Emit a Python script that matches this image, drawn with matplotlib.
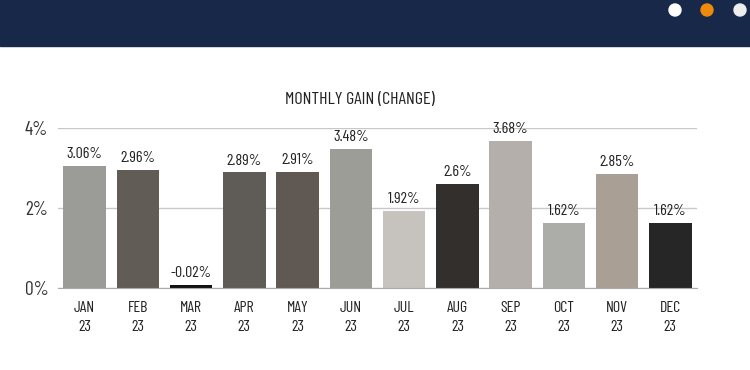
import numpy as np
import matplotlib.pyplot as plt
from matplotlib.patches import Rectangle, Ellipse

months = ["JAN", "FEB", "MAR", "APR", "MAY", "JUN",
          "JUL", "AUG", "SEP", "OCT", "NOV", "DEC"]
year = "23"
gains = [3.06, 2.96, -0.02, 2.89, 2.91, 3.48,
         1.92, 2.6, 3.68, 1.62, 2.85, 1.62]
bar_colors = ["#9b9b97", "#625c56", "#111111", "#5f5b56", "#605853",
              "#9d9d98", "#c6c3bf", "#332f2c", "#b5afab", "#acaca9",
              "#aa9f95", "#262626"]
y_ticks = [0, 2, 4]

plt.rcParams['font.family'] = ['Barlow Condensed', 'DejaVu Sans']

fig = plt.figure(figsize=(7.5, 3.7), dpi=100)
fig.patch.set_facecolor("white")

# banner oben
fig.add_artist(Rectangle((0, 1 - 46 / 370), 1, 46 / 370,
                         transform=fig.transFigure, color="#172849",
                         zorder=0))
for cx, col in zip([675, 707, 740], ["#ffffff", "#f08a0b", "#eeeeee"]):
    fig.add_artist(Ellipse((cx / 750, 1 - 10 / 370), 12 / 750, 12 / 370,
                           transform=fig.transFigure, color=col))

ax = fig.add_axes([58 / 750, 1 - 288 / 370, 639 / 750, 160 / 370])
x = np.arange(len(months))
# minimalni vyska aby byl zaporny mesic videt
heights = np.maximum(np.array(gains), 0.08)
ax.bar(x, heights, width=0.8, color=bar_colors, zorder=3)

for xi, h, g in zip(x, heights, gains):
    ax.annotate(f"{g:g}%", xy=(xi, h), xytext=(0, 3.5),
                textcoords="offset points", ha="center", va="bottom",
                fontsize=11.5, color="#222222", annotation_clip=False)

ax.set_xlim(-0.5, 11.5)
ax.set_ylim(0, 4)
ax.set_yticks(y_ticks)
ax.set_yticklabels([f"{t}%" for t in y_ticks], fontsize=14,
                   color="#333333")
ax.set_xticks(x)
ax.set_xticklabels([f"{m}\n{year}" for m in months], fontsize=11.5,
                   color="#222222", linespacing=1.5)
ax.tick_params(axis="both", length=0)
ax.tick_params(axis="x", pad=9)
ax.tick_params(axis="y", pad=7)
ax.grid(axis="y", color="#c8c8c8", linewidth=1, zorder=0)
for s in ["top", "right", "left"]:
    ax.spines[s].set_visible(False)
ax.spines["bottom"].set_color("#aaaaaa")
ax.spines["bottom"].set_zorder(4)

fig.text(360 / 750, 1 - 99 / 370, "MONTHLY GAIN (CHANGE)", ha="center",
         va="center", fontsize=13, color="#222222")

fig.savefig("out.png", dpi=100)
plt.close(fig)
